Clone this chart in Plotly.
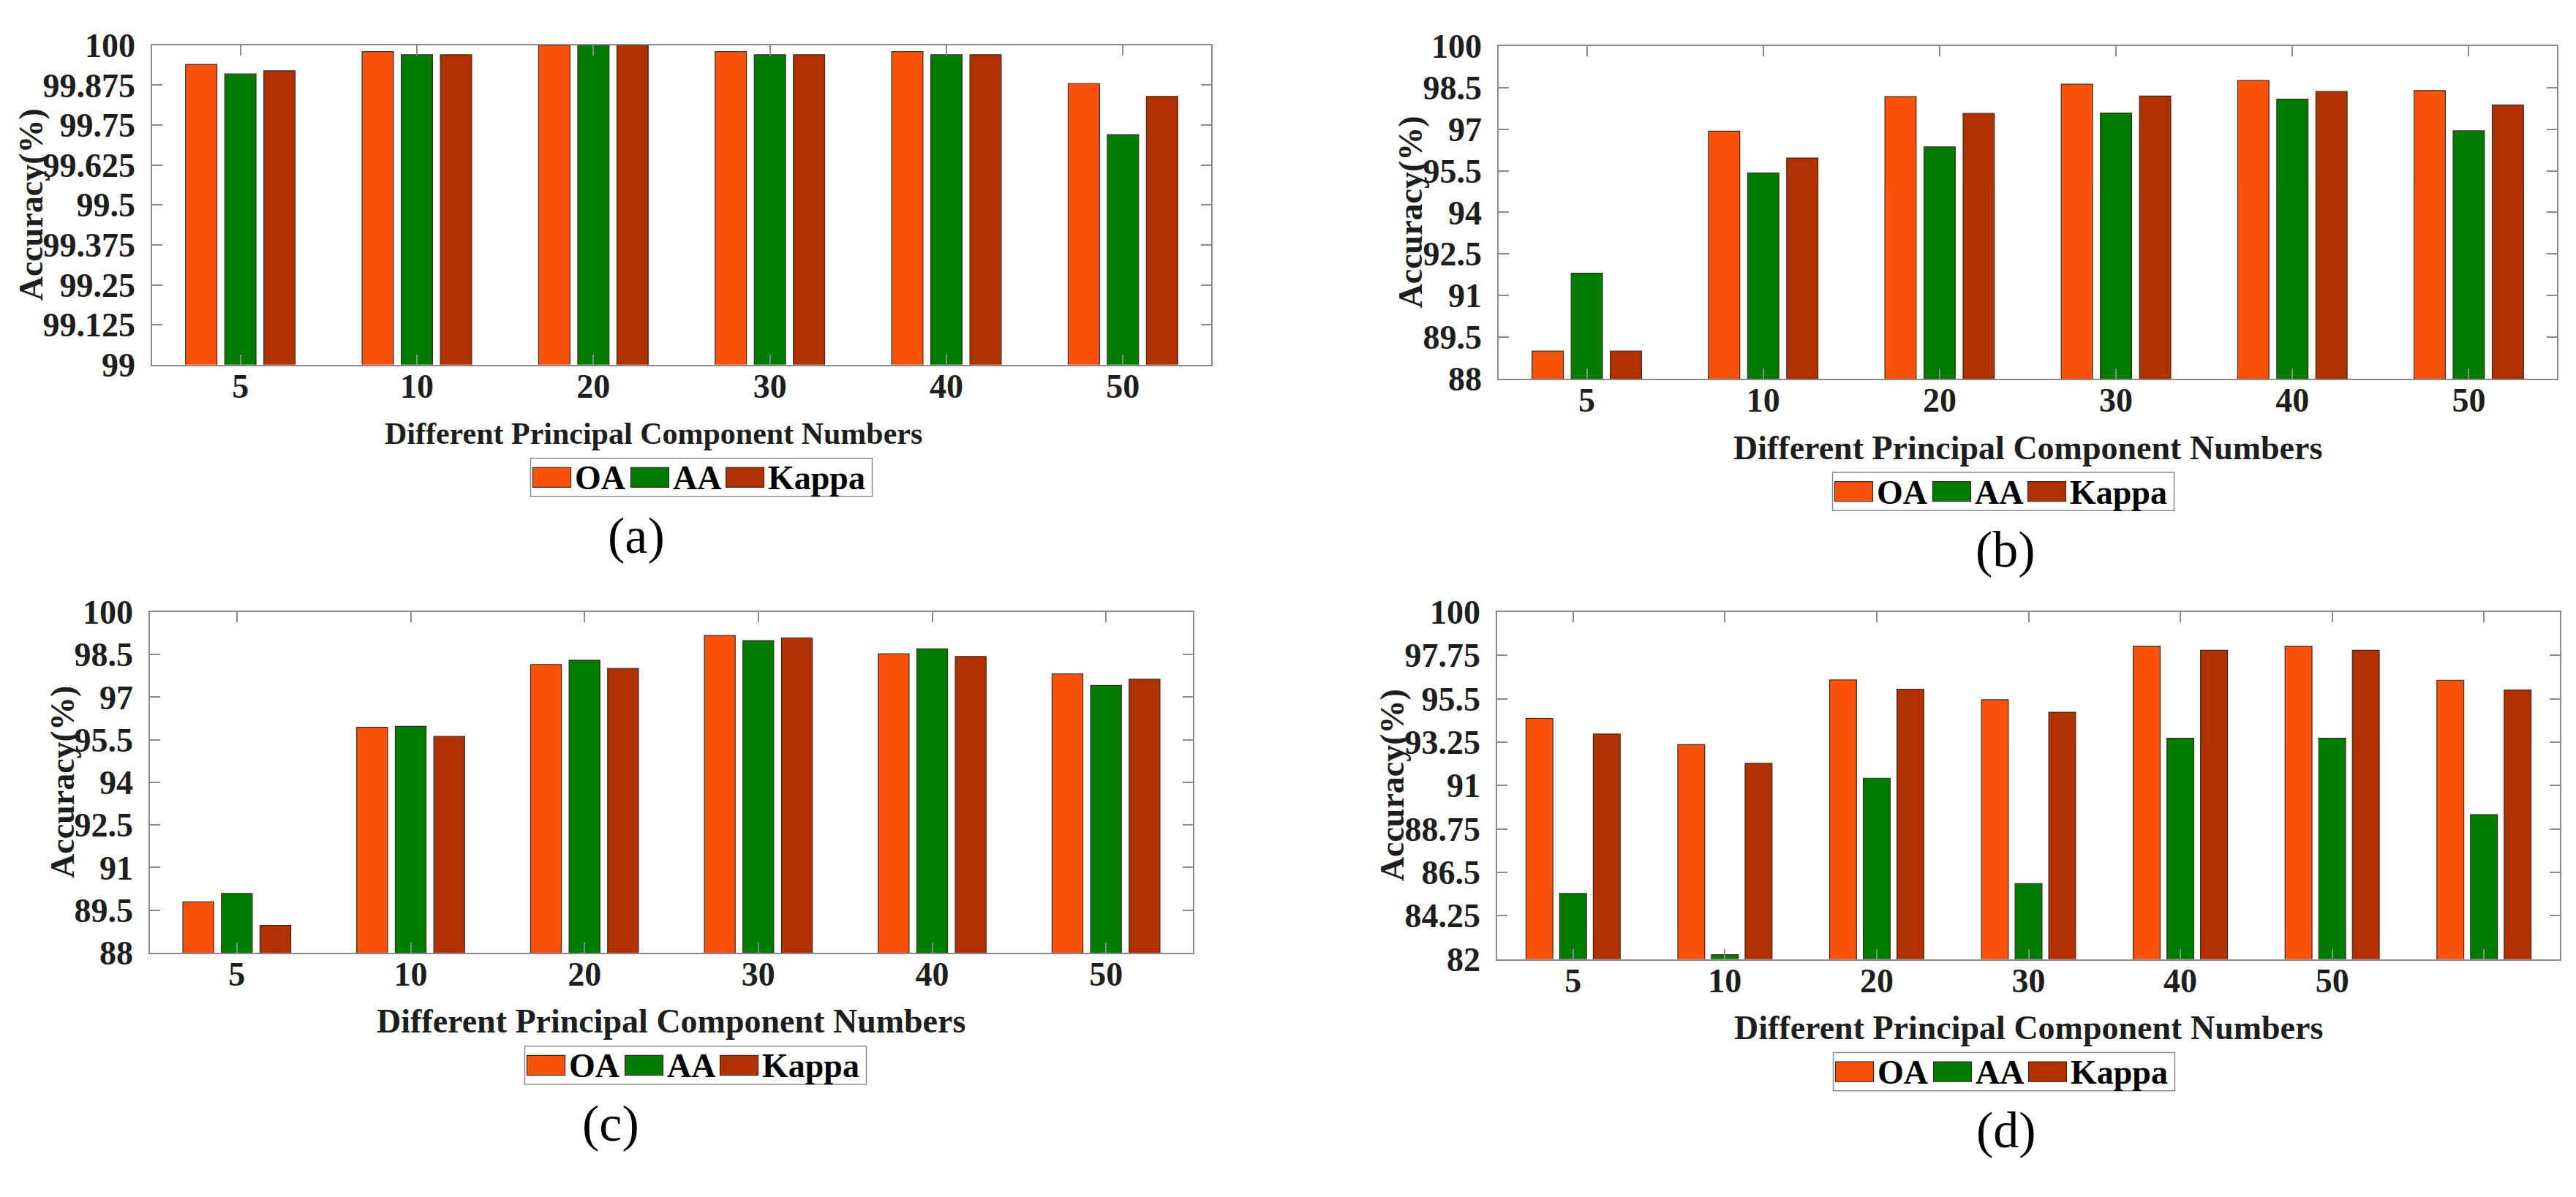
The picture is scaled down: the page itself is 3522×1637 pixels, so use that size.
import plotly.graph_objects as go

W, H = 3522, 1637

# ---------------- data ----------------
categories_abc = ["5", "10", "20", "30", "40", "50"]
categories_d = ["5", "10", "20", "30", "40", "50", ""]
series_names = ["OA", "AA", "Kappa"]
series_colors = ["#FA520A", "#007D00", "#B13200"]

a_OA = [99.94, 99.98, 100.0, 99.98, 99.98, 99.88]
a_AA = [99.91, 99.97, 100.0, 99.97, 99.97, 99.72]
a_Kappa = [99.92, 99.97, 100.0, 99.97, 99.97, 99.84]
a_ticks = ["99", "99.125", "99.25", "99.375", "99.5", "99.625", "99.75", "99.875", "100"]

b_OA = [89.0, 96.93, 98.17, 98.62, 98.75, 98.39]
b_AA = [91.81, 95.42, 96.36, 97.58, 98.08, 96.94]
b_Kappa = [89.0, 95.96, 97.57, 98.19, 98.36, 97.87]
b_ticks = ["88", "89.5", "91", "92.5", "94", "95.5", "97", "98.5", "100"]

c_OA = [89.79, 95.94, 98.15, 99.17, 98.53, 97.82]
c_AA = [90.09, 95.97, 98.30, 98.99, 98.70, 97.41]
c_Kappa = [88.96, 95.62, 98.01, 99.09, 98.43, 97.63]
c_ticks = ["88", "89.5", "91", "92.5", "94", "95.5", "97", "98.5", "100"]

d_OA = [94.48, 93.12, 96.48, 95.45, 98.22, 98.22, 96.46]
d_AA = [85.40, 82.23, 91.38, 85.92, 93.45, 93.45, 89.49]
d_Kappa = [93.67, 92.15, 95.99, 94.80, 98.01, 98.01, 95.95]
d_ticks = ["82", "84.25", "86.5", "88.75", "91", "93.25", "95.5", "97.75", "100"]

panel_labels = ["(a)", "(b)", "(c)", "(d)"]
x_title = "Different Principal Component Numbers"
y_title = "Accuracy(%)"

# ---------------- layout (pixel boxes & text anchors) ----------------
panels = [
    dict(cats=categories_abc, vals=[a_OA, a_AA, a_Kappa], ticks=a_ticks,
         box=(208, 1656, 38, 489), ytx=42, xts=42, tcx=894, lgx=959, lbx=870),
    dict(cats=categories_abc, vals=[b_OA, b_AA, b_Kappa], ticks=b_ticks,
         box=(2049, 3496, 39, 509), ytx=1928, xts=46, tcx=2772, lgx=2739, lbx=2742),
    dict(cats=categories_abc, vals=[c_OA, c_AA, c_Kappa], ticks=c_ticks,
         box=(205, 1631, 838, 1319), ytx=86, xts=46, tcx=918, lgx=951, lbx=835),
    dict(cats=categories_d, vals=[d_OA, d_AA, d_Kappa], ticks=d_ticks,
         box=(2047, 3500, 838, 1328), ytx=1903, xts=46, tcx=2773, lgx=2740, lbx=2743),
]

FONT = "Liberation Serif, Times New Roman, serif"
TXT = "#1e1e1e"
AX = "#8a8a8a"


def px(x):
    return x / W


def py(y):
    return 1 - y / H


fig = go.Figure()
shapes = []
annotations = []
layout_axes = {}

for i, p in enumerate(panels):
    k = "" if i == 0 else str(i + 1)
    x0, x1, y0, y1 = p["box"]
    n = len(p["cats"])
    tickvals = [float(t) for t in p["ticks"]]
    for s, name in enumerate(series_names):
        fig.add_trace(go.Bar(
            x=list(range(n)), y=p["vals"][s], name=name,
            marker=dict(color=series_colors[s], line=dict(color="#3a2a20", width=1.2)),
            xaxis="x" + k, yaxis="y" + k, showlegend=False,
        ))
    common = dict(
        ticks="inside", ticklen=14, tickwidth=1.5, tickcolor=AX,
        showline=True, linecolor=AX, linewidth=1.5, mirror="ticks",
        showgrid=False, zeroline=False,
        tickfont=dict(family=FONT, size=46, color=TXT, weight="bold"),
    )
    layout_axes["xaxis" + k] = dict(
        domain=[px(x0), px(x1)], anchor="y" + k,
        range=[-0.5, n - 0.5], tickvals=list(range(n)), ticktext=p["cats"],
        ticklabelstandoff=-12, **common)
    layout_axes["yaxis" + k] = dict(
        domain=[py(y1), py(y0)], anchor="x" + k,
        range=[tickvals[0], tickvals[-1]], tickvals=tickvals, ticktext=p["ticks"],
        ticklabelstandoff=12, **common)

    # x title
    annotations.append(dict(
        x=px(p["tcx"]), y=py(y1 + 97), xref="paper", yref="paper", text=x_title,
        showarrow=False, xanchor="center", yanchor="middle",
        font=dict(family=FONT, size=p["xts"], color=TXT, weight="bold")))
    # y title
    annotations.append(dict(
        x=px(p["ytx"]), y=py((y0 + y1) / 2), xref="paper", yref="paper", text=y_title,
        showarrow=False, xanchor="center", yanchor="middle", textangle=-90,
        font=dict(family=FONT, size=46, color=TXT, weight="bold")))
    # panel label
    annotations.append(dict(
        x=px(p["lbx"]), y=py(y1 + 241), xref="paper", yref="paper", text=panel_labels[i],
        showarrow=False, xanchor="center", yanchor="middle",
        font=dict(family=FONT, size=70, color="#000000")))
    # custom legend box
    lw, lh = 467, 54
    lx0 = p["lgx"] - lw / 2
    ly0 = y1 + 132
    shapes.append(dict(type="rect", xref="paper", yref="paper",
                       x0=px(lx0), x1=px(lx0 + lw), y0=py(ly0 + lh), y1=py(ly0),
                       line=dict(color="#8a8a8a", width=1.5), fillcolor="white"))
    sw_off = [3, 137, 267]
    tx_off = [58, 192, 322]
    for s, name in enumerate(series_names):
        shapes.append(dict(type="rect", xref="paper", yref="paper",
                           x0=px(lx0 + sw_off[s]), x1=px(lx0 + sw_off[s] + 52),
                           y0=py(ly0 + 41), y1=py(ly0 + 13),
                           line=dict(color="#3a2a20", width=1.2),
                           fillcolor=series_colors[s]))
        annotations.append(dict(
            x=px(lx0 + tx_off[s]), y=py(ly0 + 28), xref="paper", yref="paper",
            text=name, showarrow=False, xanchor="left", yanchor="middle",
            font=dict(family=FONT, size=46, color="#000000", weight="bold")))

fig.update_layout(
    width=W, height=H, margin=dict(l=0, r=0, t=0, b=0),
    paper_bgcolor="white", plot_bgcolor="white",
    barmode="group", bargap=0.335, bargroupgap=0.2,
    showlegend=False, shapes=shapes, annotations=annotations,
    **layout_axes,
)

fig.write_html("out.html")
